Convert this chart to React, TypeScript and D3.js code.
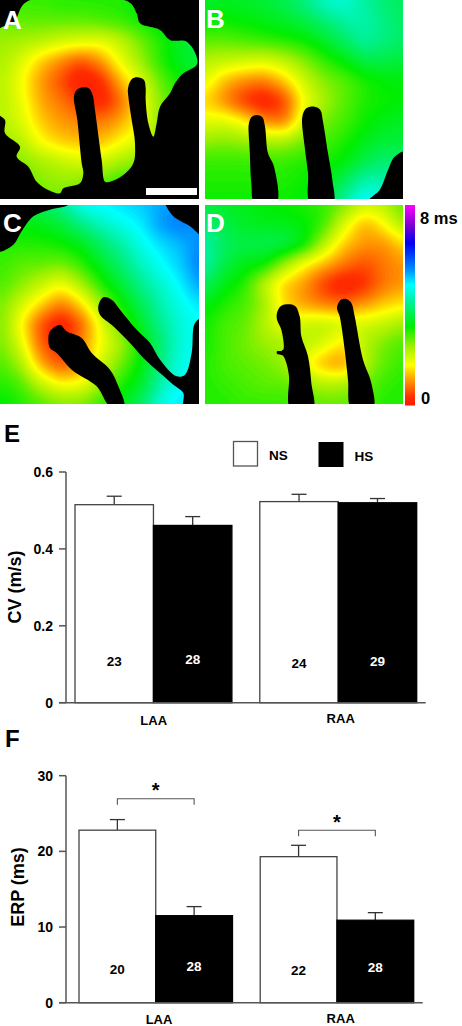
import React, { useMemo } from "react";
import * as d3 from "d3";

const WIDTH = 462;
const HEIGHT = 1026;
const FONT = "'Liberation Sans', Arial, sans-serif";

// activation time in ms, sampled on an 11x11 grid over each map
const activationA = [
  [2.9, 2.9, 2.9, 3.0, 3.0, 3.0, 3.0, 3.2, 3.4, 3.5, 3.5],
  [2.6, 2.7, 2.7, 2.7, 2.7, 2.8, 2.9, 3.1, 3.3, 3.5, 3.5],
  [2.4, 2.3, 2.2, 2.0, 1.9, 1.8, 2.1, 2.6, 3.0, 3.4, 3.6],
  [2.3, 1.9, 1.3, 0.9, 0.5, 1.0, 1.8, 2.4, 3.0, 3.4, 3.6],
  [2.2, 1.7, 1.0, 0.5, 0.0, 0.2, 1.2, 1.9, 2.7, 3.1, 3.3],
  [2.2, 1.8, 1.1, 0.8, 0.4, 0.1, 0.7, 1.7, 2.5, 3.0, 3.2],
  [2.2, 1.9, 1.3, 1.0, 0.9, 0.8, 1.1, 1.7, 2.5, 3.0, 3.0],
  [2.4, 2.2, 1.6, 1.3, 1.2, 1.2, 1.6, 1.9, 2.5, 3.0, 3.0],
  [2.6, 2.5, 2.3, 2.1, 1.9, 2.0, 2.3, 2.5, 2.8, 3.0, 3.0],
  [2.7, 2.7, 2.5, 2.4, 2.5, 2.7, 2.9, 3.0, 3.0, 3.0, 3.0],
  [2.7, 2.7, 2.6, 2.6, 2.7, 2.8, 3.0, 3.0, 3.0, 3.0, 3.0],
];
const activationB = [
  [3.4, 3.4, 3.4, 3.5, 3.7, 4.0, 4.5, 4.6, 4.2, 3.9, 3.7],
  [3.2, 3.1, 3.2, 3.3, 3.4, 3.6, 3.9, 4.2, 4.3, 4.0, 3.8],
  [2.7, 2.7, 2.8, 2.9, 3.0, 3.1, 3.4, 3.8, 4.2, 4.0, 3.8],
  [2.2, 2.1, 2.0, 1.9, 2.1, 2.5, 2.9, 3.2, 3.6, 3.6, 3.5],
  [1.9, 1.2, 0.9, 0.8, 1.3, 2.0, 2.5, 2.7, 3.0, 3.2, 3.2],
  [1.4, 0.9, 0.3, 0.0, 0.4, 1.7, 2.3, 2.7, 3.0, 3.1, 3.2],
  [1.8, 1.9, 1.6, 0.9, 0.7, 2.0, 2.6, 2.8, 3.1, 3.3, 3.4],
  [2.4, 2.5, 2.4, 2.3, 2.3, 2.6, 2.8, 3.0, 3.3, 3.5, 3.5],
  [2.9, 2.9, 2.9, 2.9, 2.9, 3.0, 3.0, 3.2, 3.6, 3.9, 3.8],
  [3.0, 3.0, 3.0, 3.0, 3.0, 3.1, 3.3, 3.7, 4.3, 4.3, 4.0],
  [3.1, 3.1, 3.1, 3.1, 3.1, 3.2, 3.5, 4.2, 4.9, 4.6, 4.0],
];
const activationC = [
  [3.6, 3.7, 3.8, 4.1, 4.8, 4.9, 5.0, 5.1, 5.3, 5.4, 5.3],
  [3.2, 3.2, 3.3, 3.5, 4.0, 4.4, 4.7, 4.9, 5.4, 5.6, 5.3],
  [3.0, 3.0, 3.0, 3.1, 3.3, 3.8, 4.2, 4.7, 5.0, 5.2, 5.5],
  [2.9, 2.7, 2.7, 2.6, 2.9, 3.4, 3.9, 4.4, 4.8, 5.1, 5.6],
  [2.8, 2.5, 2.1, 1.7, 2.3, 3.0, 3.5, 4.1, 4.5, 4.9, 5.4],
  [2.6, 2.0, 1.4, 0.8, 1.4, 2.4, 3.1, 3.7, 4.3, 4.7, 5.0],
  [2.6, 1.6, 0.5, 0.0, 0.6, 1.8, 2.7, 3.4, 4.1, 4.6, 4.8],
  [2.6, 1.9, 0.6, 0.2, 0.9, 1.7, 2.3, 3.1, 3.9, 4.6, 4.8],
  [2.8, 2.3, 1.1, 0.5, 0.9, 2.0, 2.6, 3.2, 4.0, 4.7, 4.8],
  [3.0, 2.8, 2.1, 1.6, 1.7, 2.4, 3.0, 3.4, 4.3, 4.8, 4.8],
  [3.2, 3.0, 2.8, 2.6, 2.6, 2.9, 3.3, 3.8, 4.7, 5.0, 5.0],
];
const activationD = [
  [3.5, 3.4, 3.3, 3.2, 3.1, 3.0, 2.9, 2.6, 2.1, 2.2, 2.8],
  [4.0, 3.6, 3.4, 3.3, 3.3, 3.2, 2.9, 1.9, 1.1, 1.6, 2.4],
  [4.3, 3.8, 3.6, 3.7, 3.7, 3.3, 2.2, 1.3, 1.0, 0.95, 1.4],
  [4.3, 3.6, 3.3, 3.2, 2.4, 1.6, 1.2, 0.8, 0.5, 0.8, 1.0],
  [3.8, 3.3, 3.0, 2.1, 1.3, 1.0, 0.35, 0.0, 0.25, 0.8, 1.0],
  [3.3, 3.0, 2.8, 2.4, 1.4, 1.0, 0.8, 0.7, 1.0, 1.3, 1.5],
  [3.1, 2.8, 2.7, 2.2, 1.7, 2.1, 2.2, 2.0, 2.0, 2.1, 2.4],
  [3.1, 2.8, 2.6, 2.4, 2.3, 2.2, 1.9, 1.4, 2.2, 2.6, 2.8],
  [3.0, 2.8, 2.7, 2.6, 2.4, 1.7, 1.1, 0.9, 2.2, 2.7, 2.9],
  [3.0, 2.9, 2.8, 2.7, 2.7, 2.5, 2.2, 2.3, 2.6, 2.9, 3.0],
  [3.0, 3.0, 2.9, 2.9, 2.9, 2.8, 2.7, 2.7, 2.8, 3.0, 3.0],
];

// unmapped regions, traced on a 0-600 map coordinate
const outlineA = [[80, 5], [385, 5], [410, 40], [420, 70], [480, 90], [510, 120], [560, 125], [590, 170], [590, 195], [550, 220], [525, 250], [510, 280], [480, 320], [470, 370], [460, 410], [445, 370], [437, 300], [437, 265], [432, 240], [412, 232], [395, 238], [384, 265], [385, 290], [395, 360], [405, 430], [400, 490], [370, 525], [330, 545], [315, 545], [305, 480], [285, 330], [278, 285], [268, 266], [250, 262], [232, 268], [222, 288], [232, 360], [245, 490], [250, 520], [240, 550], [190, 565], [180, 580], [145, 570], [110, 545], [85, 500], [50, 470], [60, 440], [15, 400], [15, 360], [-5, 340], [-5, 90], [40, 70]];
const masksB = [
  [[137, 375], [145, 352], [160, 345], [178, 352], [186, 380], [195, 460], [213, 500], [220, 610], [155, 610], [145, 550], [140, 450], [137, 400]],
  [[298, 350], [310, 325], [335, 320], [352, 330], [360, 365], [375, 460], [388, 540], [390, 610], [322, 610], [315, 520], [305, 440]],
  [[500, 600], [530, 570], [555, 510], [575, 470], [610, 455], [610, 610]],
];
const masksC = [
  [[-10, 145], [40, 125], [65, 85], [100, 40], [150, 20], [205, 5], [205, -10], [-10, -10]],
  [[495, 0], [520, 40], [570, 70], [610, 100], [610, -10], [495, -10]],
  [[295, 310], [310, 283], [335, 290], [360, 320], [410, 380], [450, 420], [480, 470], [530, 520], [555, 515], [575, 450], [585, 360], [610, 345], [610, 610], [552, 610], [550, 570], [520, 545], [480, 510], [430, 465], [390, 420], [340, 370], [300, 335]],
  [[145, 410], [150, 385], [180, 365], [200, 385], [245, 405], [275, 450], [330, 500], [355, 550], [372, 610], [330, 610], [290, 550], [215, 500], [170, 450], [150, 435]],
];
const masksD = [
  [[222, 330], [235, 308], [275, 308], [290, 340], [295, 400], [315, 460], [325, 540], [330, 615], [262, 615], [258, 520], [250, 480], [240, 458], [222, 452], [222, 445], [240, 442], [235, 380], [222, 350]],
  [[402, 315], [412, 292], [430, 288], [445, 300], [455, 340], [480, 470], [505, 540], [510, 615], [445, 615], [435, 530], [425, 440], [410, 340]],
];

const colorStops = [0, 0.33, 1, 1.6, 2.33, 3.13, 4.07, 4.8, 5.4, 6.47, 7.2, 8];
const colorValues = ["#ff1a00", "#ff3000", "#ff9a00", "#ffff00", "#a0f000", "#00ee00", "#00f090", "#00ffff", "#0090ff", "#0000f0", "#8000d0", "#ff00ff"];

const groups = ["LAA", "RAA"];
const treatments = ["NS", "HS"];
const cvValues = [0.515, 0.461, 0.523, 0.52];
const cvErrors = [0.537, 0.484, 0.542, 0.531];
const cvCounts = ["23", "28", "24", "29"];
const cvTicks = [0, 0.2, 0.4, 0.6];
const erpValues = [22.8, 11.5, 19.3, 10.9];
const erpErrors = [24.2, 12.7, 20.8, 11.9];
const erpCounts = ["20", "28", "22", "28"];
const erpTicks = [0, 10, 20, 30];
const erpBrackets = [26.96, 22.8];

const color = d3.scaleLinear<string>().domain(colorStops).range(colorValues).clamp(true);
const mapScale = d3.scaleLinear().domain([0, 600]).range([0, 200]);
const smoothLine = d3.line<number[]>().x((d) => mapScale(d[0])).y((d) => mapScale(d[1])).curve(d3.curveCatmullRomClosed.alpha(0.5));

const FIELD = 101;
const thresholds = d3.range(0, 8, 0.05);

function HeatMap({ grid, ox, oy, label, outline, masks, id, labelX, labelY, clip }: any) {
  const paths = useMemo(() => {
    // resample the coarse readings so contours come out smooth
    const rows = grid.length - 1;
    const cols = grid[0].length - 1;
    const data = new Float64Array(FIELD * FIELD);
    for (let j = 0; j < FIELD; j++) {
      for (let i = 0; i < FIELD; i++) {
        const gx = (i / (FIELD - 1)) * cols;
        const gy = (j / (FIELD - 1)) * rows;
        const x0 = Math.min(Math.floor(gx), cols - 1);
        const y0 = Math.min(Math.floor(gy), rows - 1);
        const tx = gx - x0;
        const ty = gy - y0;
        const top = d3.interpolateNumber(grid[y0][x0], grid[y0][x0 + 1])(tx);
        const bot = d3.interpolateNumber(grid[y0 + 1][x0], grid[y0 + 1][x0 + 1])(tx);
        data[j * FIELD + i] = d3.interpolateNumber(top, bot)(ty);
      }
    }
    d3.blur2({ data, width: FIELD, height: FIELD }, 2.5);
    const gen = d3.contours().size([FIELD, FIELD]).thresholds(thresholds);
    const path = d3.geoPath();
    return gen(data as any).map((c) => ({ v: c.value, d: path(c) as string }));
  }, [grid]);

  const size = mapScale(600);
  const outerRect = `M-10,-10H${size + 10}V${size + 10}H-10Z`;
  return (
    <g transform={`translate(${ox},${oy})`}>
      <clipPath id={id}>
        <rect x={clip[0]} y={clip[1]} width={clip[2]} height={clip[3]} />
      </clipPath>
      <g clipPath={`url(#${id})`}>
        <g transform={`scale(${size / (FIELD - 1)})`}>
          <rect width={FIELD} height={FIELD} fill={color(0)} />
          {paths.map((p) => (
            <path key={p.v} d={p.d} fill={color(p.v)} />
          ))}
        </g>
        {outline && <path d={outerRect + smoothLine(outline)} fill="#000" fillRule="evenodd" />}
        {masks && masks.map((m: number[][], i: number) => <path key={i} d={smoothLine(m) as string} fill="#000" />)}
      </g>
      <text x={labelX} y={labelY} fill="#fff" fontFamily={FONT} fontWeight="bold" fontSize={26}>
        {label}
      </text>
    </g>
  );
}

function BarPanel({ values, errors, counts, ticks, yDomain, yRange, xRange, padding, title, titleX, yTitleY, brackets, countNudge, labelYs, labelXs }: any) {
  const y = d3.scaleLinear().domain(yDomain).range(yRange);
  const xGroup = d3.scaleBand<string>().domain(groups).range(xRange).paddingInner(padding);
  const xBar = d3.scaleBand<string>().domain(treatments).range([0, xGroup.bandwidth()]);
  const axisLeft = 66;
  const axisColor = "#555";
  return (
    <g fontFamily={FONT} fontWeight="bold" fill="#000">
      {groups.map((g, gi) =>
        treatments.map((t, ti) => {
          const idx = gi * 2 + ti;
          const x = (xGroup(g) as number) + (xBar(t) as number);
          const w = xBar.bandwidth();
          const cx = x + w / 2;
          return (
            <g key={g + t}>
              <line x1={cx} x2={cx} y1={y(values[idx])} y2={y(errors[idx])} stroke="#333" strokeWidth={1.3} />
              <line x1={cx - 7.5} x2={cx + 7.5} y1={y(errors[idx])} y2={y(errors[idx])} stroke="#333" strokeWidth={1.3} />
              <rect
                x={x}
                y={y(values[idx])}
                width={w}
                height={y(0) - y(values[idx])}
                fill={t === "NS" ? "#fff" : "#000"}
                stroke={t === "NS" ? "#444" : "#000"}
                strokeWidth={1.3}
              />
              <text x={cx} y={countNudge[idx]} textAnchor="middle" fontSize={13.5} fill={t === "NS" ? "#000" : "#fff"}>
                {counts[idx]}
              </text>
            </g>
          );
        })
      )}
      <line x1={axisLeft} x2={axisLeft} y1={y(yDomain[1])} y2={y(0)} stroke={axisColor} strokeWidth={1.5} />
      <line x1={59} x2={xRange[1] + 9} y1={y(0)} y2={y(0)} stroke={axisColor} strokeWidth={1.5} />
      {ticks.map((t: number) => (
        <g key={t}>
          <line x1={59} x2={axisLeft} y1={y(t)} y2={y(t)} stroke={axisColor} strokeWidth={1.5} />
          <text x={53} y={y(t) + 5} textAnchor="end" fontSize={14}>
            {t}
          </text>
        </g>
      ))}
      <text transform={`translate(${titleX},${yTitleY}) rotate(-90)`} textAnchor="middle" fontSize={18}>
        {title}
      </text>
      {groups.map((g, i) => (
        <text key={g} x={labelXs[i]} y={labelYs[i]} textAnchor="middle" fontSize={13}>
          {g}
        </text>
      ))}
      {brackets &&
        groups.map((g, i) => {
          const x1 = (xGroup(g) as number) + xBar.bandwidth() / 2;
          const x2 = x1 + xBar.bandwidth();
          const yb = y(brackets[i]);
          return (
            <g key={g}>
              <path d={`M${x1},${yb + 6}V${yb}H${x2}V${yb + 6}`} fill="none" stroke="#555" strokeWidth={1.1} />
              <text x={(x1 + x2) / 2} y={yb - 1.5} textAnchor="middle" fontSize={20}>
                *
              </text>
            </g>
          );
        })}
    </g>
  );
}

export default function App() {
  const barY = d3.scaleLinear().domain([0, 8]).range([405, 205]);
  const barSteps = d3.range(0, 8, 0.04);
  return (
    <svg width={WIDTH} height={HEIGHT} style={{ position: "absolute", left: 0, top: 0, display: "block", background: "#fff" }}>
      <HeatMap grid={activationA} ox={0} oy={0} label="A" id="clipA" outline={outlineA} labelX={3} labelY={29} clip={[0, 0, 199, 199]} />
      <HeatMap grid={activationB} ox={203} oy={0} label="B" id="clipB" masks={masksB} labelX={3} labelY={28} clip={[2, 0, 198, 199]} />
      <HeatMap grid={activationC} ox={0} oy={203} label="C" id="clipC" masks={masksC} labelX={3} labelY={29} clip={[0, 2, 199, 199]} />
      <HeatMap grid={activationD} ox={203} oy={203} label="D" id="clipD" masks={masksD} labelX={3} labelY={29} clip={[2, 2, 198, 199]} />
      <rect x={146} y={188} width={51} height={7} fill="#fff" />

      {barSteps.map((v) => (
        <rect key={v} x={405} y={barY(v + 0.04)} width={10} height={barY(v) - barY(v + 0.04) + 0.5} fill={color(v)} />
      ))}
      <g fontFamily={FONT} fontWeight="bold" fontSize={16.5} fill="#000">
        <text x={420} y={224}>8 ms</text>
        <text x={421} y={404}>0</text>
      </g>

      <g fontFamily={FONT} fontWeight="bold" fill="#000">
        <text x={4} y={442} fontSize={24}>E</text>
        <text x={5} y={747} fontSize={24}>F</text>
      </g>
      <g fontFamily={FONT} fontWeight="bold" fontSize={13.5}>
        <rect x={233.5} y={441.5} width={24} height={24.5} fill="#fff" stroke="#555" strokeWidth={1.3} />
        <text x={278.5} y={460} textAnchor="middle">NS</text>
        <rect x={318.5} y={442} width={25} height={25} fill="#000" />
        <text x={364} y={461} textAnchor="middle">HS</text>
      </g>

      <BarPanel
        values={cvValues}
        errors={cvErrors}
        counts={cvCounts}
        ticks={cvTicks}
        yDomain={[0, 0.6]}
        yRange={[702.7, 472]}
        xRange={[75, 416.7]}
        padding={0.151}
        title="CV (m/s)"
        titleX={21}
        yTitleY={587}
        countNudge={[666, 664, 668, 666]}
        labelXs={[153.7, 340.7]}
        labelYs={[725, 722.5]}
      />
      <BarPanel
        values={erpValues}
        errors={erpErrors}
        counts={erpCounts}
        ticks={erpTicks}
        yDomain={[0, 30]}
        yRange={[1002.7, 775.7]}
        xRange={[79, 413.7]}
        padding={0.153}
        title="ERP (ms)"
        titleX={24}
        yTitleY={887}
        brackets={erpBrackets}
        countNudge={[973.5, 971, 974.5, 972]}
        labelXs={[159, 340.7]}
        labelYs={[1024, 1022.5]}
      />
    </svg>
  );
}
